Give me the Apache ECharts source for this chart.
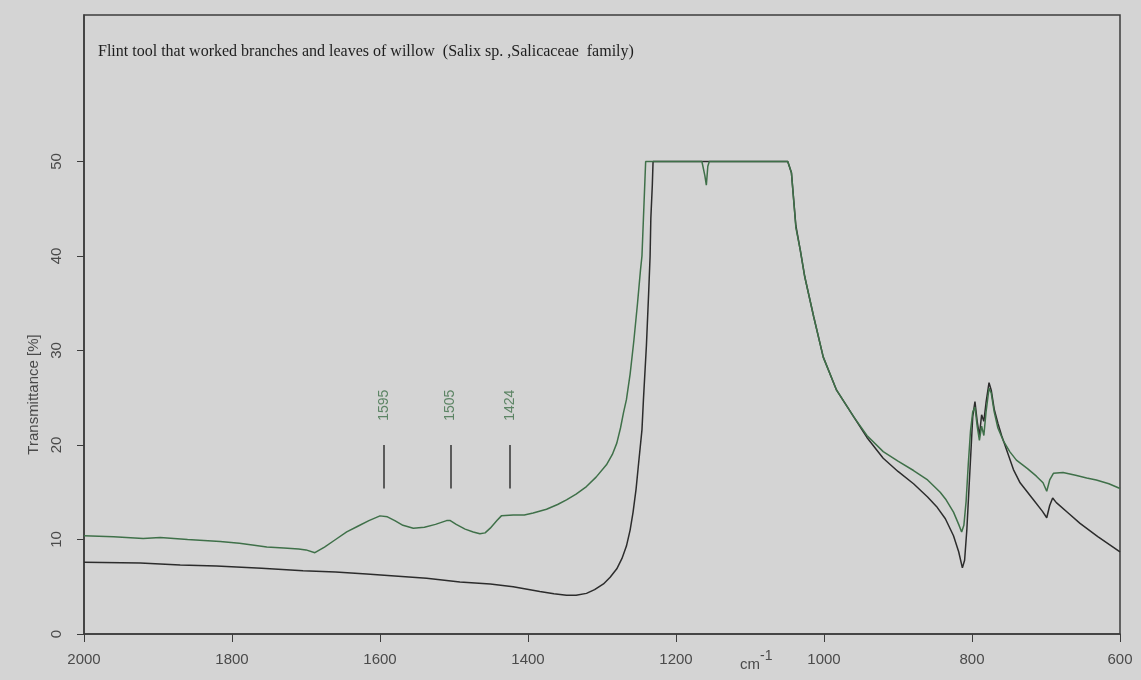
<!DOCTYPE html>
<html><head><meta charset="utf-8">
<script src="https://cdn.jsdelivr.net/npm/echarts@6/dist/echarts.min.js"></script>
<style>html,body{margin:0;padding:0;background:#d4d4d4}#c{width:1141px;height:680px}</style>
</head><body><div id="c"></div>
<script>
const titleText = 'Flint tool that worked branches and leaves of willow  (Salix sp. ,Salicaceae  family)';
const yTickValues = [0, 10, 20, 30, 40, 50];
const peakWn = [1595, 1505, 1424];

const greenWn = [2000,1960,1920,1897,1860,1816,1790,1770,1753,1730,1710,1700,1688,1675,1660,1645,1630,1615,1600,1590,1580,1569,1555,1540,1525,1510,1505,1497,1485,1474,1465,1458,1451,1442,1436,1420,1405,1393,1375,1360,1348,1335,1321,1308,1294,1286,1280,1275,1271,1267,1262,1257,1252,1248,1246,1244,1242,1241,1165,1161,1159,1157,1155,1049,1044,1038,1032,1026,1014,1001,983,960,942,920,900,879,860,843,835,825,818,814,811,808,805,802,799,796,793,790,787,784,781,777,774,770,765,758,749,740,725,713,704,699,695,690,677,660,645,632,615,600];
const greenT = [10.4,10.3,10.1,10.2,10.0,9.8,9.6,9.4,9.2,9.1,9.0,8.9,8.6,9.2,10.0,10.8,11.4,12.0,12.5,12.4,12.0,11.5,11.2,11.3,11.6,12.0,12.0,11.6,11.1,10.8,10.6,10.7,11.2,12.0,12.5,12.6,12.6,12.8,13.2,13.7,14.2,14.8,15.6,16.6,17.9,19.0,20.2,21.8,23.4,24.8,27.5,31,35,38.5,40,44,48,50,50,48.5,47.5,49.5,50,50,48.8,43,40.6,37.8,33.6,29.3,25.8,23.0,21.0,19.3,18.3,17.3,16.3,15.0,14.2,12.9,11.6,10.8,11.5,14,18,21.5,23.5,24.0,22,20.5,22,21,23.5,26.0,25.5,23.5,21.8,20.5,19.3,18.4,17.5,16.7,16.0,15.1,16.3,17.0,17.1,16.8,16.5,16.3,15.9,15.4];

const blackWn = [2000,1924,1870,1821,1760,1704,1660,1618,1580,1537,1492,1451,1420,1384,1365,1348,1335,1321,1310,1298,1289,1280,1273,1267,1262,1258,1254,1251,1246,1244,1240,1237,1235,1234,1232,1231,1049,1044,1038,1032,1026,1014,1001,983,960,942,920,900,879,860,848,836,825,818,813,810,807,804,801,799,796,793,790,787,784,781,777,774,770,765,760,752,744,735,717,705,699,695,691,686,670,654,630,600];
const blackT = [7.6,7.5,7.3,7.2,6.95,6.7,6.55,6.35,6.15,5.9,5.5,5.3,5.0,4.5,4.25,4.1,4.1,4.3,4.7,5.3,6.0,6.9,8.0,9.3,11.0,12.9,15.3,17.7,21.6,24.8,30.5,36,40,44,47.5,50,50,48.8,43.2,40.6,37.8,33.6,29.3,25.8,23.0,20.8,18.6,17.2,15.9,14.5,13.5,12.2,10.4,8.7,7.0,7.8,11,15.5,20,23.0,24.6,22.5,21.0,23.2,22.5,24.5,26.6,25.8,23.8,22.3,21.0,19.2,17.4,16.0,14.2,13.0,12.3,13.6,14.4,13.9,12.8,11.7,10.3,8.7];

const zip = (a, b) => a.map((v, i) => [v, b[i]]);
const axisColor = '#3c3c3c';
const textColor = '#4a4a4a';
const greenColor = '#3f7049';
const font = '"Liberation Sans", Arial, sans-serif';

const chart = echarts.init(document.getElementById('c'), null, {renderer: 'canvas'});
chart.setOption({
  backgroundColor: '#d4d4d4',
  animation: false,
  grid: {left: 84, right: 21, top: 15, bottom: 46, show: true, borderColor: axisColor, borderWidth: 1.5, backgroundColor: 'transparent'},
  graphic: [
    {type: 'text', left: 98, top: 44, style: {text: titleText, font: '16px "Liberation Serif", serif', fill: '#1e1e1e'}},
    {type: 'text', x: 740, y: 657, style: {text: 'cm', font: '15px ' + font, fill: textColor}},
    {type: 'text', x: 760, y: 649, style: {text: '-1', font: '14px ' + font, fill: textColor}}
  ],
  xAxis: {
    type: 'value', inverse: true, min: 600, max: 2000, interval: 200,
    axisLine: {show: true, lineStyle: {color: axisColor, width: 1.5}},
    axisTick: {show: true, length: 8, lineStyle: {color: axisColor}},
    axisLabel: {margin: 18, fontSize: 15, color: textColor, fontFamily: font, showMinLabel: true, showMaxLabel: true, formatter: v => String(v)},
    splitLine: {show: false}
  },
  yAxis: {
    type: 'value', min: 0, max: 65.5,
    name: 'Transmittance [%]', nameLocation: 'middle', nameGap: 43,
    nameTextStyle: {fontSize: 15, color: textColor, fontFamily: font, padding: [0, 140, 0, 0]},
    axisLine: {show: true, lineStyle: {color: axisColor, width: 1.5}},
    axisTick: {show: true, length: 7, customValues: yTickValues, lineStyle: {color: axisColor}},
    axisLabel: {customValues: yTickValues, rotate: 90, margin: 20, fontSize: 15, color: textColor, fontFamily: font, formatter: v => String(v)},
    splitLine: {show: false}
  },
  series: [
    {type: 'line', data: zip(greenWn, greenT), symbol: 'none', lineStyle: {color: greenColor, width: 1.5}, z: 3},
    {type: 'line', data: zip(blackWn, blackT), symbol: 'none', lineStyle: {color: '#2c2c2c', width: 1.5}, z: 2},
    {type: 'scatter', data: peakWn.map(p => [p, 24.2]), symbolSize: 0,
     label: {show: true, position: 'inside', rotate: 90, formatter: p => String(p.value[0]), fontSize: 14, color: greenColor, fontFamily: font},
     markLine: {silent: true, symbol: 'none', label: {show: false}, lineStyle: {color: '#333', width: 1.5, type: 'solid'},
       data: peakWn.map(p => [{coord: [p, 15.4]}, {coord: [p, 20]}])}
    }
  ]
});
</script></body></html>
